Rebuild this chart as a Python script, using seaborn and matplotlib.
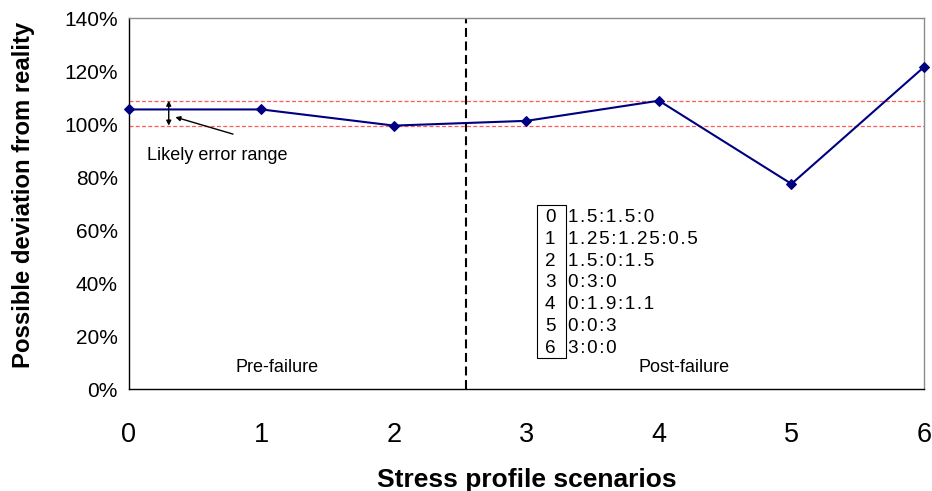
import matplotlib
matplotlib.use("Agg")
import matplotlib.pyplot as plt
from matplotlib.patches import Rectangle
import seaborn as sns
import pandas as pd

scenarios = [0, 1, 2, 3, 4, 5, 6]
deviation = [1.055, 1.055, 0.994, 1.012, 1.088, 0.774, 1.215]
error_low = 0.994
error_high = 1.088
divider_x = 2.54
profiles = ["1.5:1.5:0", "1.25:1.25:0.5", "1.5:0:1.5", "0:3:0",
            "0:1.9:1.1", "0:0:3", "3:0:0"]
y_ticks = [0, 0.2, 0.4, 0.6, 0.8, 1.0, 1.2, 1.4]

sns.set_theme(style="white")
plt.rcParams['font.family'] = ['Liberation Sans', 'DejaVu Sans']
plt.rcParams['text.color'] = 'black'
plt.rcParams['axes.labelcolor'] = 'black'
plt.rcParams['xtick.color'] = 'black'
plt.rcParams['ytick.color'] = 'black'

df = pd.DataFrame({"scenario": scenarios, "deviation": deviation})

fig = plt.figure(figsize=(9.32, 4.91), dpi=100)
ax = fig.add_axes([0.1384, 0.2077, 0.8530, 0.7556])

ax.axhline(error_high, color="#ff5a5a", lw=0.9, ls=(0, (3.2, 1.8)), zorder=1)
ax.axhline(error_low, color="#ff5a5a", lw=0.9, ls=(0, (3.2, 1.8)), zorder=1)
ax.axvline(divider_x, color="black", lw=1.5, ls=(0, (4.3, 2.2)), zorder=1)

sns.lineplot(data=df, x="scenario", y="deviation", ax=ax, color="#000080",
             marker="D", markersize=5.5, lw=1.5, markeredgecolor="#000080",
             zorder=5, clip_on=False)

ax.set_xlim(0, 6)
ax.set_ylim(0, 1.4)
ax.set_xticks(scenarios)
ax.set_xticklabels([str(s) for s in scenarios], fontsize=19.5)
ax.set_yticks(y_ticks)
ax.set_yticklabels([f"{int(round(v*100))}%" for v in y_ticks], fontsize=15)
ax.tick_params(axis="x", direction="out", length=6.5, width=1, color="black", pad=17.5)
ax.tick_params(axis="y", direction="out", length=5, width=1, color="black", pad=3)

for s in ["left", "bottom"]:
    ax.spines[s].set_color("black")
    ax.spines[s].set_linewidth(1)
for s in ["top", "right"]:
    ax.spines[s].set_color("#8c8c8c")
    ax.spines[s].set_linewidth(1)

ax.set_xlabel("Stress profile scenarios", fontsize=19, fontweight="bold", labelpad=14)
ax.set_ylabel("Possible deviation from reality", fontsize=17.2, fontweight="bold",
              va="center")
ax.yaxis.set_label_coords(-0.133, 0.523)

# error range annotation
ax.annotate("", xy=(0.30, error_high), xytext=(0.30, error_low),
            arrowprops=dict(arrowstyle="<|-|>", color="black", lw=1, mutation_scale=7,
                            shrinkA=0, shrinkB=0))
ax.annotate("", xy=(0.35, 1.026), xytext=(0.785, 0.962),
            arrowprops=dict(arrowstyle="-|>", color="black", lw=1, mutation_scale=7,
                            shrinkA=0, shrinkB=0))
ax.text(0.133, 0.883, "Likely error range", fontsize=13, ha="left", va="center")

ax.text(1.117, 0.083, "Pre-failure", fontsize=13, ha="center", va="center")
ax.text(4.19, 0.083, "Post-failure", fontsize=13, ha="center", va="center")

# legend box with scenario ratios (letter-spaced like the original)
y0 = 0.646
dy = 0.0819
for i, p in enumerate(profiles):
    y = y0 - i * dy
    ax.text(3.178, y, str(i), fontsize=13.6, ha="center", va="center")
    ax.text(3.315, y, "\u200a".join(p), fontsize=13.6, ha="left", va="center")
ax.add_patch(Rectangle((3.077, 0.116), 0.219, 0.578,
                       fill=False, edgecolor="black", lw=0.8, zorder=2))

fig.savefig("out.png", dpi=100)
